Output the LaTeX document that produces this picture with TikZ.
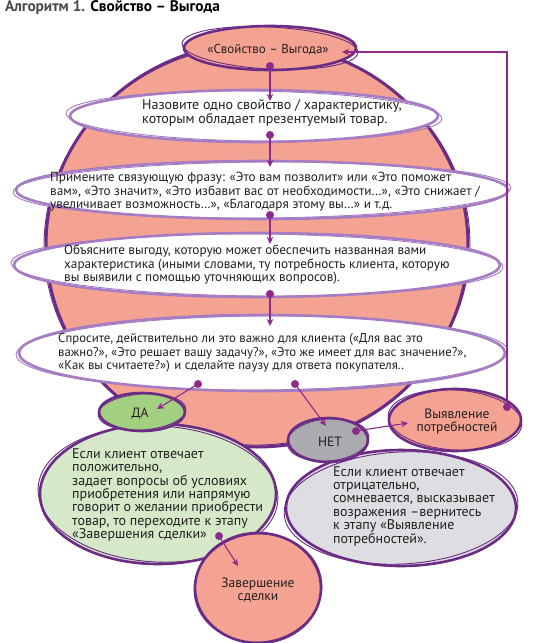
\documentclass[tikz,border=0pt]{standalone}
\usepackage{fontspec}
\setmainfont{PT Sans}
\usetikzlibrary{arrows.meta,shapes.geometric}
\definecolor{pinkf}{HTML}{F4A393}
\definecolor{darkp}{HTML}{6B2C86}
\definecolor{lavp}{HTML}{A67DC2}
\definecolor{arrp}{HTML}{8E2A8C}
\definecolor{greenf}{HTML}{A3CF80}
\definecolor{lgreenf}{HTML}{D5E9C9}
\definecolor{grayf}{HTML}{ABAAAF}
\definecolor{lgrayf}{HTML}{DEDDE2}
\definecolor{txt}{HTML}{231F20}
\definecolor{titlegray}{HTML}{4A4A4A}
\newcommand\brushring[5]{%
  \draw[#4, line width=0.9pt, rotate around={#5:(#1.center)}] (#1.center) ellipse (#2 and #3);}
\tikzset{
  blob/.style={ellipse, inner sep=0pt, draw=darkp, line width=2.6pt},
  wbub/.style={ellipse, inner sep=0pt, draw=lavp, line width=2.6pt, fill=white},
  body/.style={inner sep=0pt, align=left, text=txt, font=\fontsize{13.2}{13.5}\selectfont},
  lbody/.style={inner sep=0pt, align=left, text=txt, font=\fontsize{14}{13.4}\selectfont},
  cbody/.style={inner sep=0pt, align=center, text=txt, font=\fontsize{13.5}{13}\selectfont},
  conn/.style={draw=arrp, line width=1.1pt, -{Stealth[length=7pt,width=6.5pt]}},
  dotc/.style={fill=arrp},
}
\begin{document}
\begin{tikzpicture}[x=1pt,y=-1pt]
\useasboundingbox[fill=white] (0,0) rectangle (536,643);
% title
\node[anchor=west, inner sep=0pt, font=\fontsize{15.3}{17}\selectfont\bfseries] (title) at (5,8)
  {\color{titlegray}Алгоритм 1. \color{black}Свойство – Выгода};
% big circle
\node[blob, fill=pinkf, line width=3pt, minimum width=422pt, minimum height=404pt] (big) at (257,245) {};
\brushring{big}{213pt}{200pt}{darkp}{2}
% top ellipse
\node[blob, fill=pinkf, minimum width=172pt, minimum height=44pt] (top) at (270,48) {};
\brushring{top}{88pt}{21pt}{darkp}{-3}
\node[cbody, font=\fontsize{13}{13}\selectfont] (ttop) at (268,50) {«Свойство – Выгода»};
% white bubbles
\node[wbub, minimum width=368pt, minimum height=52pt] (e1) at (254,116) {};
\brushring{e1}{188pt}{25pt}{lavp}{-0.8}
\node[wbub, minimum width=492pt, minimum height=58pt] (e2) at (262,190) {};
\brushring{e2}{249pt}{28pt}{lavp}{0.5}
\node[wbub, minimum width=486pt, minimum height=64pt] (e3) at (257,265) {};
\brushring{e3}{246pt}{31pt}{lavp}{-0.5}
\node[wbub, minimum width=486pt, minimum height=76pt] (e4) at (262,353) {};
\brushring{e4}{246pt}{37pt}{lavp}{0.4}
\node[body, anchor=west, font=\fontsize{14}{14}\selectfont] (t1) at (142,113)
  {Назовите одно свойство / характеристику,\\которым обладает презентуемый товар.};
\node[body, anchor=west] (t2) at (50,192)
  {Примените связующую фразу: «Это вам позволит» или «Это поможет\\вам», «Это значит», «Это избавит вас от необходимости…», «Это снижает /\\увеличивает возможность…», «Благодаря этому вы…» и т.д.};
\node[body, anchor=west] (t3) at (64,265)
  {Объясните выгоду, которую может обеспечить названная вами\\характеристика (иными словами, ту потребность клиента, которую\\вы выявили с помощью уточняющих вопросов).};
\node[body, anchor=west, font=\fontsize{12.8}{13.5}\selectfont] (t4) at (58,353)
  {Спросите, действительно ли это важно для клиента («Для вас это\\важно?», «Это решает вашу задачу?», «Это же имеет для вас значение?»,\\«Как вы считаете?») и сделайте паузу для ответа покупателя..};
% lower bubbles
\node[blob, fill=lgreenf, minimum width=236pt, minimum height=140pt] (g) at (158,494) {};
\brushring{g}{120pt}{68pt}{darkp}{-3}
\node[blob, fill=greenf, minimum width=86pt, minimum height=38pt] (da) at (142,412) {};
\brushring{da}{44pt}{18pt}{darkp}{4}
\node[blob, fill=lgrayf, minimum width=230pt, minimum height=116pt] (gr) at (401,508) {};
\brushring{gr}{117pt}{56pt}{darkp}{3}
\node[blob, fill=pinkf, minimum width=132pt, minimum height=62pt] (vy) at (455,420) {};
\brushring{vy}{67pt}{30pt}{darkp}{-4}
\node[blob, fill=grayf, minimum width=80pt, minimum height=44pt] (net) at (328,440) {};
\brushring{net}{41pt}{21pt}{darkp}{5}
\node[blob, fill=pinkf, minimum width=126pt, minimum height=110pt] (zs) at (258,588) {};
\brushring{zs}{64pt}{54pt}{darkp}{6}
\node[cbody] (tda) at (140,414) {ДА};
\node[cbody] (tnet) at (330,442) {НЕТ};
\node[cbody] (tvy) at (457,422) {Выявление\\потребностей};
\node[cbody] (tzs) at (258,590) {Завершение\\сделки};
\node[lbody, anchor=west] (tg) at (72,495)
  {Если клиент отвечает\\положительно,\\задает вопросы об условиях\\приобретения или напрямую\\говорит о желании приобрести\\товар, то переходите к этапу\\«Завершения сделки»};
\node[lbody, anchor=west] (tgr) at (333,506)
  {Если клиент отвечает\\отрицательно,\\сомневается, высказывает\\возражения –вернитесь\\к этапу «Выявление\\потребностей».};
% connector points
\coordinate (d0) at (270,66);  \coordinate (a0) at (270,101);
\coordinate (d1) at (270,135); \coordinate (a1) at (270,167);
\coordinate (d2) at (270,215); \coordinate (a2) at (270,244);
\coordinate (d3) at (270,294); \coordinate (a3) at (270,326);
\coordinate (d4) at (198,384); \coordinate (a4) at (157,409);
\coordinate (d5) at (295,384); \coordinate (a5) at (326,426);
\coordinate (d6) at (356,431); \coordinate (a6) at (408,423);
\coordinate (d7) at (507,407); \coordinate (k7) at (507,52); \coordinate (a7) at (342,52);
\coordinate (d8) at (219,536); \coordinate (a8) at (238,566);
\foreach \i in {0,...,6,8} {
  \draw[conn] (d\i) -- (a\i);
  \fill[dotc] (d\i) circle (4pt);
}
\draw[conn] (d7) -- (k7) -- (a7);
\fill[dotc] (d7) circle (4pt);
\end{tikzpicture}
\end{document}
